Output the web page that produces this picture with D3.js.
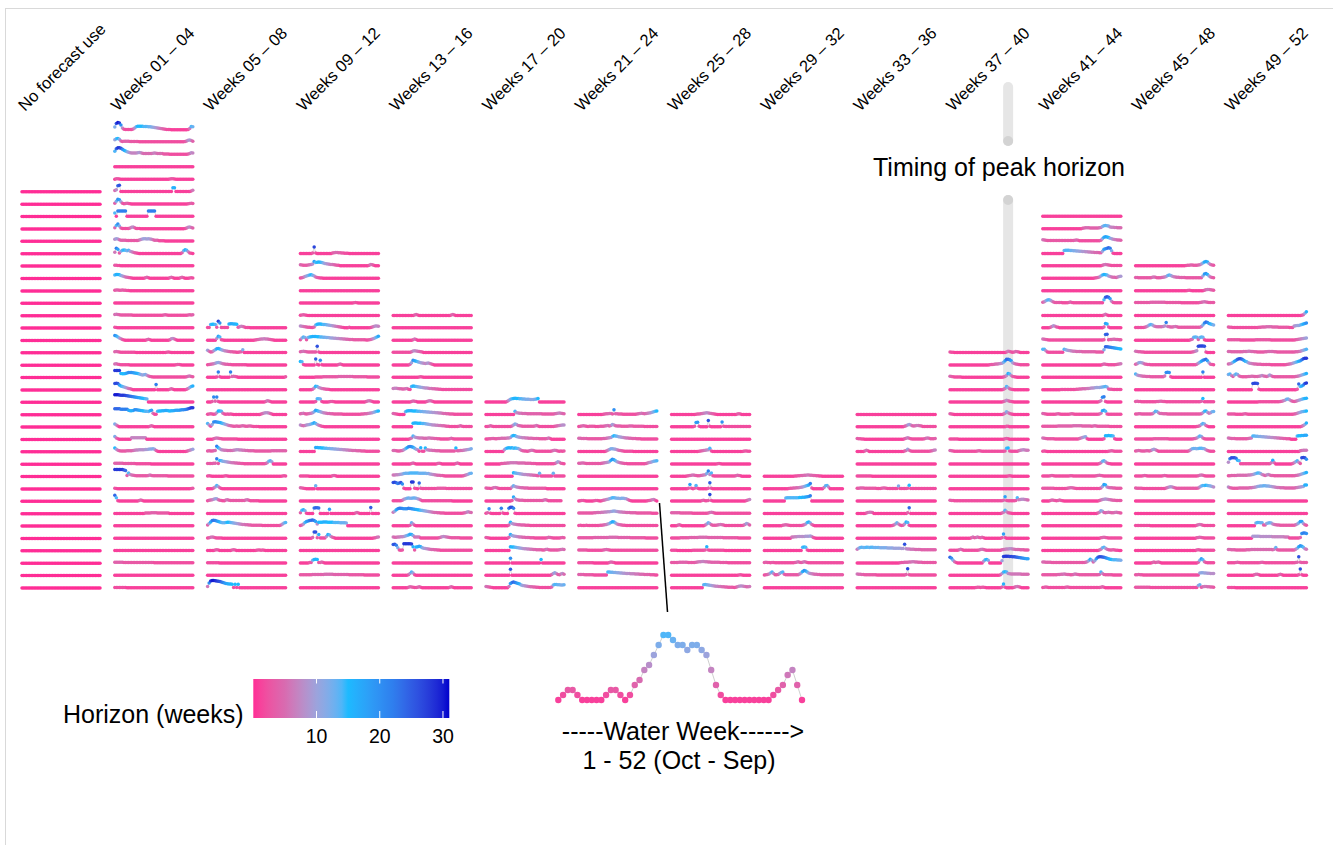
<!DOCTYPE html>
<html>
<head>
<meta charset="utf-8">
<script src="https://cdn.jsdelivr.net/npm/d3@7"></script>
<style>
  body { margin: 0; background: #fff; }
  svg { display: block; }
  text { font-family: "Liberation Sans", Arial, Helvetica, sans-serif; fill: #000; }
</style>
</head>
<body>
<svg id="chart" width="1333" height="845"></svg>
<script>
// column headers (grouped by timing of peak horizon)
var groupLabels = ["No forecast use", "Weeks 01 \u2013 04", "Weeks 05 \u2013 08", "Weeks 09 \u2013 12",
  "Weeks 13 \u2013 16", "Weeks 17 \u2013 20", "Weeks 21 \u2013 24", "Weeks 25 \u2013 28", "Weeks 29 \u2013 32",
  "Weeks 33 \u2013 36", "Weeks 37 \u2013 40", "Weeks 41 \u2013 44", "Weeks 45 \u2013 48", "Weeks 49 \u2013 52"];

var legendTicks = [10, 20, 30];

// each row = horizon (weeks) for water weeks 1..52, written as "value" or "value*repeat"
var noForecast = ["0*52","0*52","0*52","0*52","0*52","0*52","0*52","0*52","0*52","0*52","0*52",
  "0*52","0*52","0*52","0*52","0*52","0*52","0*52","0*52","0*52","0*52","0*52",
  "0*52","0*52","0*52","0*52","0*52","0*52","0*52","0*52","0*52","0*52","0*52"];

var weeks01 = [
  "12 26 30 28 20 8 3 2*5 4 8 13 15*4 14*3 13*2 12 11 10 9 8 7 6 5 4 3 2*3 1*11 2 6 14 13",
  "10 14 15 12 5 3 4*4 3*6 2*30 3 5 8 9 7 4",
  "14 24 28 28 26 22 18 15 12 10 8 7*4 8 9 8 6 5*6 6 7 6 5*4 3*4 2*12 3 5 8 7",
  "1*52",
  "1 3 3 2 1*32 2 3 3 2 1*12",
  "5 8 24 26 1*34 16 16 1*10 3 6",
  "4 12 20 18 10 4 2 3 4 3 2 1*37 2 3 4 3",
  "14 1 22*6 1*14 22*5 1*25",
  "5 14 20 12 4 2*5 4 7 8 5 2*3 1*29 2 4 7 8 6 4",
  "8 10 9 6 4*4 3*8 5 7 9 10 10 9 10 9 8 6 4*3 2*4 1*19",
  "6 22 18 3 10 14 15 14 12 14 10 8 6 4 3 2 1*28 4 12 16 14 8 3 2 1",
  "3 3 2 2 1*48",
  "14 16 16 15 12 10 8 6 5 4 3 2 1*8 3 5 3 1*13 3 5 3 1*4 3 5 3 1*3 2 3 2",
  "3 4 4 3 3 4 3 3 2 2 1*42",
  "1*52",
  "5 6 5 4 3*8 2*20 3 4 3 2*13 3 4 3 4",
  "3 2 1*50",
  "20 18 14 10 7 4 2 1*14 3 5 3 1*12 3 7 8 6 3 1*11",
  "4 5 4 3 2*10 1*20 2 3 2 1*15",
  "5 6 4 3 2*6 1*30 2 3 3 2 1*8",
  "28*4 16 15 15 16 18 20 20 20 19 18 17 16 14 12 10 11 12 9 6 4 3 2*22 3 5 6 4 3",
  "26 27 26 20 16 14 12 10 8 6 5 3 1*15 22 1*8 3 5 3 1*8 3 6 10 14 16",
  "30*3 29 28 28 28 27 26 25 24 23 22 21 20 19 18 17 16 15 14 13 1*30",
  "24*4 22*5 18 16 16 17 20 20 19 18 17 16 15 14 14 13 16 18 6 2 2 14 15 15 16 16 17 17 16 15 16 16 17 18 18 18 19 20 20 21 22 24 26 28 28",
  "12 8 4 1*20 3 5 3 1*26",
  "12 6 3 1*8 7*10 1*31",
  "15 10 6 4 3*4 4*4 5 6 7 7 8 8 8 8 9 9 10 11 11 12 10 5 2 1*18 2 4 6 8 10",
  "4*6 3*8 2*10 1*28",
  "28*6 26 24 4 14 8 6 5 4 3*8 4 6 4 3*10 2*17",
  "3 2 1*48 2 3",
  "24 14 2 1*13 3 5 3 1*33",
  "1*20 3*4 4*4 3*8 1*16",
  "1*52",
  "1*52",
  "1*52",
  "4*6 3*20 2*26",
  "1*52",
  "2*8 1*44"
];

var weeks05 = [
  "2 2 14 15 15 14 3 27 20 2*5 16 17 17 16 16 15 3 5 7 6 4 2*3 1*24",
  "1*6 8 17 14 3 2 1*20 2 3 4 5 6 6 7 6 6 5 4 3 2 1*8",
  "10 6 3 4 8 12 16 17 15 12 10 8 7 6 5 4 4 3 3 2 2 3 4 12 1*28",
  "2 3 4 5 6 8 10 11 10 8 6 5 4 4 3 3 2*10 1*26",
  "1*6 2 22 3 1*6 22 4 5 4 3 1*31 3",
  "1*52",
  "1*3 3 21 4 21 3 1*30 3 6 5 3 1*10",
  "2 3 4 3 2 3 8 15 15 14 6 3 2 3 2 3 2 1*18 3 5 7 8 8 7 5 3 1*9",
  "14 8 3 10 20 21 20 19 18 16 14 12 10 8 6 5 4 3 3 4 3 3 4 5 4 3 3 4 4 3 2*4 1*18",
  "1*4 3 5 6 5 4 3 2*10 1*32",
  "3 4 3 3 4 5 22 16 12 8 7 6 6 5 5 5 5 6 7 8 8 7 7 6 6 5 5 4 4 4 4 3*11 4*10",
  "3 3 3 3 4 4 22 3 15 14 12 11 10 9 8 7 6 6 5 5 4 4 3 3 2*14 3 6 12 14 10 1*9",
  "2 3 2 1*8 2 3 2 1*35 2 3 2",
  "1*4 4 8 14 10 5 2 1*42",
  "2 4 5 6 8 10 10 6 4 3 2 2 5 6 4 3*10 5 6 4 2*6 1*18",
  "1*52",
  "4 10 16 22 23 22 20 18 16 14 13 13 14 15 15 14 13 12 11 10 9 8 7 6 6 5 5 4 4 3 3*6 2*12 4 8 12 14",
  "2 3 5 6 5 3 2*4 1*42",
  "1*5 3 4 3 1*8 3 4 3 1*13 2 3 3 2 3 2 1*14",
  "2*8 1*44",
  "1*52",
  "6 20 28 30 30 29 28 27 26 24 22 20 18 17 16 16 15 2 15 2 15 1*31"
];

var weeks09 = [
  "1*8 3 27 3 1*10 3 4 5 5 4 4 3 3 2*3 1*20",
  "5 4 3 3 3 4 5 6 8 18 14 15 16 15 14 12 10 9 8 7 6 6 5 4 3 3 1*19 3 6 5 3 1*3",
  "2 3 5 8 10 12 14 15 13 10 6 4 3 2 2 1*37",
  "1*52",
  "1*35 2 3 2 1*14",
  "2 3 4 3 2 1*47",
  "8 7 6 5 4 3 3 2 2 4 12 15 16 16 15 14 14 13 12 11 10 9 8 7 6 5 4 3 2 1*3 3 1*13 2 4 6 8 8 7",
  "3 10 14 12 3 12 14 15 16 16 16 15 15 14 14 13 13 12 12 11 10 10 9 9 8 8 7 7 6 6 5 5 4 4 4 3*8 2 2 3 4 6 8 11 14 17",
  "4 5 6 5 4 3*6 26 3 1*39",
  "15 14 3 1*7 25 3 1 20 2 1*10 3 5 3 1*24",
  "1*10 2*5 3*10 4*10 3*9 2*8",
  "1*8 3 8 15 14 10 8 6 5 4 3 3 2 1*32",
  "1*10 3 14 14 13 3 1*4 2 3 3 2 1*20 3 5 6 5 3 1*4",
  "4 5 6 4 3 4 5 6 8 12 18 16 14 12 10 8 7 6 5 5 4 4 3*6 2*12 3 3 4 4 5 6 7 8 10 12 14 15",
  "8 6 5 6 8 9 10 12 14 17 14 10 7 5 3 2 1*36",
  "1*52",
  "1*10 17 17 16 16 15 15 14 14 13 13 12 12 11 11 10 10 9 9 8 8 7 7 6 6 5 5 5 4 4 4 3 3 3 2*9",
  "1*52",
  "2*6 1*15 3 4 3 1*28",
  "5 4 3 2 1*6 13 1*41",
  "1*52",
  "4 14 16 12 2 1 1 1 1 23 24 24 23 1*6 18 1*16 3 5 3 1*7 25 1*5",
  "2 4 8 14 18 20 22 23 24 22 18 8 15 15 15 16 16 16 15 15 15 15 14 14 14 14 13 13 13 13 12 1*21",
  "1*8 4 26 26 3 16 2*4 8 16 14 8 5 3 1*25 2 3 5 6",
  "1*52",
  "1*6 3 3 12 15 16 15 3 3 5 3 1*36",
  "3*8 4*8 5*6 4*10 3*10 2*10",
  "1*52"
];

var weeks13 = [
  "1*14 3 5 3 1*21 3 5 3 1*11",
  "1*52",
  "1*13 3 6 4 1*36",
  "2*12 4 7 8 7 6 5 4 3 1*32",
  "1*11 4 10 20 18 16 14 12 10 9 8 7 8 9 7 5 3 1*25",
  "1*17 2 3 2 1*32",
  "6 7 7 6 5 5 4 4 5 6 3 2 14 16 15 14 13 12 11 10 9 8 8 7 6 6 5 5 4 4 3 3 2*20",
  "1*12 3 5 4 3 1*6 3 5 6 5 3 1*25",
  "5 4 3 2 1*4 12 15 16 16 16 15 15 15 14 14 13 13 12 12 11 11 10 10 9 9 8 8 7 7 6 5 5 4 4 3 3 3 2*12",
  "1*13 15 16 16 15 15 15 14 14 13 12 11 10 9 8 8 7 7 6 6 5 5 4 3 3 2*6 3 5 3 2*6",
  "1*11 3 6 14 10 8 7 6 6 6 5 5 5 6 6 5 5 4 4 3 3 2*6 3 5 3 2*12",
  "5 5 4 3 3 4 5 8 12 16 20 21 20 18 14 10 8 2 16 2 2 15 8 7 6 6 5 5 4 4 4 3 3 3 3*7 15 4 4 5 5 6 7 8 9 10 12",
  "1*12 3 5 3 1*14 3 4 3 1*9 3 5 3 1*8",
  "6 6 7 7 8 9 10 12 13 13 13 14 14 14 14 14 14 13 13 13 13 13 12 12 10 9 8 7 6 5 5 4 4 3 2*12 3 5 7 9 12 13",
  "26 27 25 22 24 26 20 3 1*4 28 28 3 2 1 24 3 2*10 3*6 2*17",
  "2*6 4 8 10 12 13 12 12 13 13 12 10 8 5 2*20 1*13",
  "6 10 16 20 22 22 21 20 20 20 22 21 20 19 18 17 16 15 14 13 12 11 10 9 8 7 6 5 5 4 4 3 3 3 2*12 3 4 6 8 6 5",
  "1*11 3 13 8 3 1*37",
  "6 5 5 6 6 7 7 8 10 12 14 17 16 12 6*4 2*12 3 5 7 8 7 6 5 4 3*6 2*8",
  "25 26 22 12 3 2 3 28 28 28 28 28 27 16 3 15 16 18 16 12 10 9 8 7 6 5 5 4 4 3 3 2*21",
  "1*52",
  "1*10 3 8 14 10 3 1*37",
  "1*10 3 5 4 3 2 2 3 5 3 1*18 3 5 3 1*12"
];

var weeks17 = [
  "1*14 4 8 12 14 15 16 15 15 14 14 13 13 12 12 12 11 11 11 12 13 15 1*17",
  "1*19 14 8 7 6 6 5 5 5 4*10 3*8 4 5 6 7 6 5 4",
  "2 2 3 5 3 2*12 4 8 12 10 6 5 4 3*8 4 6 4 2*10 3 4 5 6 7 8 8",
  "2 2 3 3 4 4 3 3 4 4 5 5 5 5 6 6 8 14 16 15 12 10 9 8 7 7 6 6 5 5 5 4 4 4 4 3 3 3 3 3 4 6 4 1*9",
  "1*12 8 13 15 16 15 16 14 15 14 13 10 6 4 3 3 2 3 5 6 5 3 2*10 3 5 6 5 3 2 3 2 3",
  "1*10 3 3 4 4 5 5 6 6 6 6 6 5 5 5 5 5 4 4 4 4 3 3 3 2*12 3 6 10 8 4 3 2",
  "1*18 15 14 13 12 11 10 9 8 8 7 7 6 6 5 5 4 3 13 2*8 13 2*7",
  "4 3 3 2 3 5 6 5 3 2*8 8 13 10 8 7 6 5 5 4 4 4 3*12 1*12",
  "1*17 3 17 10 6 5 4 4 4 3 3 3 3 3 3 3 3 3 3 3 3 3 5 6 4 2*9",
  "2 4 20 2 1*6 22 3 1*3 22 26 26 22 2 1*32",
  "1*15 4 15 10 8 7 6 5 5 4 4 4 3 3 3 2*23",
  "4 3 2 1*12 5 16 12 10 9 8 7 6 6 5 5 4 4 4 3 3 3 2*8 3 5 4 3 2*5 3 4 3",
  "1*16 16 15 15 14 13 12 11 10 9 8 8 7 7 6 6 5 5 4 4 4 4 3 3 5 6 4 3*6 4 5 6 5",
  "1*16 20 1*19 15 1*15",
  "1*16 25 1*26 4 8 11 8 4 3 6 8 5",
  "6 5 4 3 2 1*10 6 18 22 24 22 20 18 16 12 10 9 8 7 6 5 5 4 4 3 3 2*8 4 12 14 14 13 13 12 12 13"
];

// row 8 of this column is the one blown up in the inset
var weeks21 = [
  "1*16 2 3 4 4 5 5 3 20 4 4 3 3 3 2*9 3 4 5 6 5 4 5 6 7 8 10 12 14 15",
  "2 3 4 5 4 3 2 3*4 2*3 3*3 4 5 6 4 6 10 8 5 4*3 3*5 4*3 3*7 2*9",
  "5 5 4 4 4 4 3*10 4 4 5 6 7 8 12 15 14 13 11 10 9 8 7 6 6 5 5 4 4 4 3 3 3 2*11",
  "1*18 3 6 9 12 12 11 10 8 6 5 4 3 2*6 1*16",
  "4 4 5 5 4 3 3 3 3 3 3 3 3 3 3 4 5 6 7 8 10 16 20 18 14 10 8 6 5 4 3 3 2*12 3 5 7 8 10 12 13 14",
  "1*52",
  "1*52",
  "1 2 3 3 2 1 1 1 1 1 2 3 3 2 1 2 4 5 7 8 10 12 14 14 13 12 12 11 12 12 11 10 7 4 2 1 1 1 1 1 1 1 1 1 1 2 3 4 6 7 4 1",
  "3*10 4 4 5 5 5 6 6 7 7 8 8 9 10 11 10 9 8 7 7 6 6 5 5 5 4 4 4 4 3*10 2 2 2 2",
  "2 3 2 2 2 3 2 2 2 2 2 2 2 2 3 3 4 5 6 8 10 14 17 16 12 8 6 5 4 3 3 2*21",
  "3*10 4*10 5*6 4*8 3*10 2*8",
  "3*6 2*10 3 4 5 4 3 2*31",
  "2*10 1*10 3 5 4 3 1*28",
  "4*4 3*6 2*9 14 14 13 13 12 12 11 11 10 10 9 9 8 8 8 7 7 7 6 6 6 5 5 5 4 4 4 4 3 3 3 2 2",
  "1*52"
];

var weeks25 = [
  "1*16 2 3 3 4 5 6 7 8 7 6 5 4 3 2 1*13 3 4 3 1*6",
  "1*15 3 18 19 3 1*5 26 3 1*7 20 3 2*17",
  "1*52",
  "1*18 2 3 4 5 6 7 8 14 3 1*20 2 3 3 2 2",
  "1*30 2 3 2 1*19",
  "1*10 2 3 4 5 6 5 4 3 3 4 5 6 7 12 22 8 14 3 2*14 3 5 4 3 1*6",
  "1*11 3 18 3 1 3 14 3 1*6 3 25 3 1*25",
  "1*20 3 4 2 2 3 27 3 1*22 3 5 7",
  "4*6 3*8 2*10 3 5 6 5 3 2*23",
  "1*4 3 5 3 1*15 4 8 13 10 5 3 3 3 4 5 6 5 4 2*12 3 6 10 8 4",
  "2*6 3*6 4*6 5*6 4*10 3*10 2*8",
  "2*4 1*10 2*8 3 16 3 2*10 1*17",
  "3*5 4*6 3*5 4 5 6 6 7 7 6 6 5 5 4*6 3*5 2*15",
  "1*44 2 3 2 1*5",
  "1*21 13 14 13 12 11 10 9 8 7 7 6 6 5 5 4 4 3 3 3 3 2 3 5 7 8 8 7 6 5 5 6"
];

var weeks29 = [
  "1*20 2 2 3 3 4 4 5 5 6 6 5 5 4 4 3 3 2 2 1*14",
  "1*16 2 3 3 4 4 5 5 6 7 8 10 12 14 16 22 4 1*7 6 13 14 8 1*9",
  "1*14 13 14 14 14 14 14 14 14 14 15 15 16 16 17 18 19 22 1*21",
  "1*52",
  "1*12 3 4 5 4 3 2*8 3 5 8 14 16 12 6 3 1*19",
  "1*18 6 6 7 7 8 8 8 8 8 9 9 9 10 8 4 2 1*18",
  "1*25 14 15 14 3 1*23",
  "3 4 3 3 2 3 3 2 2*12 3 4 6 4 3 4 6 5 3 2*23",
  "2 3 4 6 10 14 8 3 3 4 8 12 14 5 3*9 6 10 16 20 18 14 10 8 7 6 5 5 4 4 3 3*14",
  "1*52"
];

var weeks33 = [
  "1*52",
  "1*31 3 5 8 10 8 5 4 5 6 6 5 4 2*9",
  "4 3 3 2 2 1*26 3 5 7 5 3 2*8 3 5 6 5 3 3 3 4",
  "1*5 3 6 4 1*23 3 5 10 6 3 2*12 3 4 6 7",
  "1*52",
  "2*10 1*42",
  "3 3 4 4 4 3 3 3 3 3 3 3 3 2 2 2 3 4 4 3 2*7 12 2*5 3 15 2*17",
  "1*52",
  "1*6 3 5 6 6 5 1*22 4 24 1*17",
  "1*23 2 4 8 13 8 4 2 3 8 16 14 3 1*17",
  "1*52",
  "6 10 13 14 13 13 14 14 13 14 14 13 13 13 13 12 12 12 12 12 11 11 11 11 10 10 10 10 10 9 9 26 8 7 7 6 6 6 5 5 5 5 4*10",
  "1*28 2 3 3 4 4 4 5 5 6 6 5 5 4 4 4 3*9",
  "6 5 5 4 4 3*8 2*19 4 27 3 2*17",
  "1*52"
];

var weeks37 = [
  "3 2 2 1*34 3 6 5 3 2 3 5 4 3 1*6",
  "1*26 2 3 3 4 5 5 6 7 8 12 18 24 24 22 18 10 7 5 4 3 2*6",
  "5 4 3 2*5 1*27 2 4 8 16 14 8 4 3 2 1*8",
  "1*35 3 6 14 10 5 3 2 1*10",
  "1*35 3 5 8 6 4 3 2 1*10",
  "4 3 2 1*32 3 6 12 8 5 3 2 1*10",
  "1*37 3 3 1*13",
  "2*6 1*30 3 4 3 1*13",
  "5 4 3 2*15 3 4 3 2*15 3 14 15 3 2*5 4 6 7 8 7 6 6",
  "1*52",
  "1*38 2 3 2 1*11",
  "1*52",
  "4 3 3 2*32 4 18 3 2*5 3 14 6 7 8 8 7 6 5",
  "1*34 3 6 14 8 4 3 2 1*11",
  "1*52",
  "1*14 3 6 3 4 6 4 3 5 3 1*11 3 18 4 1*15",
  "2*6 4 6 4 2*10 3 5 6 5 3 2*10 4 5 6 7 7 8 8 7 6 5 5 5 4 4 4 3 3 3",
  "24 20 12 6 3 1*17 8 14 15 12 1*8 10 27 28 28 28 27 27 26 26 25 24 23 22 21 20 19 18 18",
  "1*33 3 8 14 15 14 8 7 6*7 5*5",
  "1*17 2 3 3 2 3 3 2 1*10 4 16 3 1*5 3 5 6 5 3 1*5"
];

var weeks41 = [
  "1*52",
  "1*26 3 4 5 5 5 4*6 5 6 10 13 14 13 12 8 7 7 6 6 5 5 5",
  "6 5 4 3*18 4 5 4 2*14 4 10 16 18 17 15 12 10 8 7 6 5 5 4",
  "1*14 13 14 14 14 13 13 12 12 11 11 10 10 9 9 8 8 7 7 6 6 5 5 5 4 4 10 18 20 22 24 22 12 2 1*5",
  "1*39 3 5 6 5 4 3 2*7",
  "1*34 2 3 4 6 10 14 16 15 14 10 8 6 5 5 4 6 8 9",
  "1*52",
  "4 6 10 13 14 12 8 5 3*5 2*4 3 5 3 2*20 14 24 26 24 18 8 3 2*5",
  "1*40 3 6 3 1*9",
  "1*5 3 6 9 7 4 3 1*29 4 18 16 4 1*8",
  "6 5 4 3 2*36 3 24 25 3 4 4 5 5 4 4 3 3",
  "14 14 8 3 2*10 14 12 10 9 8 7 6 6 5*4 4*9 3*5 12 24 24 23 22 21 20 19 18 17 16 15",
  "1*39 3 5 4 3 2*5 3 4 5 6",
  "1*52",
  "1*12 2*10 3 3 4 4 5 5 5 6 6 7 8 8 9 10 10 10 11 12 13 14 12 4 3 3 2*6",
  "1*37 3 6 20 22 3 1*10",
  "5 4 3 2*6 3 4 3 2*6 3 4 3 2*16 3 6 16 18 14 3 2*9",
  "3*10 4*10 5*6 4*6 3 4 5 4 3*8 2*8",
  "6 5 4 3*5 2*16 4 6 8 10 11 3 1*10 3 15 15 16 15 15 14 3 1*4",
  "2 3 2 1*40 2 3 4 3 2*5",
  "1*37 3 6 12 14 10 5 3 2 1*7",
  "2*5 3 4 3 2*10 3 3 2*15 3 4 5 4 3 2*12",
  "3*8 2*8 3 4 5 5 4 3 2*16 4 10 18 16 8 6 5 5 4 4 3*4",
  "1*5 3 5 4 3 2 3 5 3 2 1*23 3 5 7 8 9 8 7 6 5 4 4 3*4",
  "1*36 3 6 12 10 5 4 5 6 5 4 4 5 6 5 4 3",
  "1*52",
  "1*38 3 4 5 4 3 2*9",
  "1*37 3 6 12 14 10 6 4 3 3 4 3 2 2 1 1",
  "5 5 4 4 4 4 3 3 3*20 4 6 10 16 12 5 10 18 24 26 26 25 24 22 20 18 16 15 14 14 14 13 13 12",
  "3*10 4 4 5 5 6 5 4 4 3 3 4 6 5 4 3*13 4 14 8 4 3*5 2*6",
  "2 3 4 3 2 2*10 3 4 3 2*20 3 5 3 1*11"
];

var weeks45 = [
  "1*33 2 3 3 4 4 3 3 3 4 5 8 12 16 18 16 10 6 4 3",
  "4 4 3*9 5 6 5 3 3 3 4 5 6 8 12 14 12 9 7 6 5 5 4 4 4 4 3*11 10 18 20 16 10 6 4 3",
  "1*34 2 3 2 1*8 3 5 6 6 5 4 3",
  "3*10 4*10 3*10 2*12 3 4 5 6 5 4 3 3 3 3",
  "1*52",
  "2*6 3 5 8 12 14 12 8 6 5 5 5 5 6 8 22 6 5 4 4 5 6 5 3*15 6 12 20 24 22 18 16 14 12",
  "1*36 3 5 13 14 13 4 12 14 13 3 1*6",
  "6 5 4 4 3 3 2*31 3 4 6 8 26 27 27 27 26 3 1*5",
  "4 6 10 11 10 8 5 4 3 3 2*30 4 8 12 16 20 22 24 18 10 4 3 2",
  "14 10 8 7 6 5 5 4 4 4 3*9 6 20 21 20 3 1*20 22 1*7",
  "1*52",
  "3 4 3 3 2*10 3 3 4 4 3 3 2*23 4 15 2*7",
  "3 3 4 4 3*7 4 8 14 13 8 5 5 4 4 4 3*22 4 8 14 15 10 6 8 12 13",
  "1*40 2 3 5 10 14 12 6 3 1*4",
  "2*12 3*10 2*16 3 4 6 10 14 12 6 3 2*6",
  "3 4 5 4 3 3 3 4 4 3 5 8 10 8 5 2*20 4 8 12 13 13 12 13 14 14 13 12 8 5 3 2 2 2",
  "1*52",
  "2*5 3 4 3 2*10 3 4 3 2*20 3 5 6 5 3 2*6",
  "4 3 3 3 3 2*15 4 6 8 9 8 6 4 3*14 4 8 12 14 14 15 14 13 12 10 8",
  "1*52",
  "1*52",
  "2*10 1*30 3 5 6 5 3 2*7",
  "1*40 3 4 5 4 3 2*7",
  "1*40 3 4 3 2*9",
  "1*11 3 5 3 4 5 3 1*24 4 12 18 14 6 3 2*5",
  "3 3 4 3 3 2*37 10 11 11 10 10 9 9 8 8 8",
  "3*10 2*31 10 13 3 5 6 6 5 5 4 4 3"
];

var weeks49 = [
  "1*48 2 4 10 16",
  "4 3 3 2*17 3 3 4 4 4 5 5 5 5 4 4 4 4 3*7 2*3 8 9 10 10 12 14 16 18 20",
  "3*8 2*10 3*10 2*16 3 4 5 6 7 8 9 10",
  "5 5 4*8 5*3 6*2 5*2 4*2 3*5 4*2 5*4 4*2 3*12 4*2 5 6 8 10 12 14",
  "5 6 8 12 16 20 24 26 26 24 20 16 14 10 8 7 6 5 5 4 4 4 3*6 2*10 3 4 5 6 8 10 12 14 16 18 22 26 28 28",
  "12 14 8 4 10 14 12 6 4 3 3 3 3 4 4 5 5 4 4 4 5 6 8 6 5 4 6 10 7 4 3*14 4 5 6 8 10 12 14 16",
  "1*16 26 27 27 26 3 1*24 3 24 14 16 20 26 28",
  "1*20 2*14 3 4 6 8 12 13 10 6 4 3 4 6 8 10 12 14 15 16",
  "3*5 2*5 3 4 3 2*30 3 4 6 8 10 12 13 14 15",
  "1*48 3 6 10 16",
  "6 5 4 4 4 3*8 4 5 6 14 14 13 13 12 12 11 11 10 10 9 9 8 8 7 7 6 6 5 5 4 4 3 3 3 1*4 14 15 15 16 16 17 17",
  "1*47 4 5 6 6 6",
  "8 22 26 26 26 24 16 14 2*20 6 16 6 1*11 3 6 10 14 8 3 26 27 26 20",
  "3 3 4 4 4 4 5*7 6 6 7 8 10 12 14 14 12 8 6 4 6 8 6 4 4 3*14 4 5 6 8 10 12 14 16",
  "8 5 4 3 3 3 3 4*7 5 5 6 7 8 10 11 12 12 13 13 12 12 11 10 9 8 7 6 6 5 5 5 4*7 5 6 7 8 9 10 16 16",
  "1*52",
  "1*52",
  "1*18 12 14 14 13 13 4 4 10 12 13 12 8 6 5 4 4 3*10 5 8 12 18 18 10 5 3",
  "1*16 9*5 8*8 7*8 6*3 2*7 4 20 22 22 20",
  "5 5 4 4 4 3*7 4*3 5*14 4 6 13 4 3*11 6 10 16 20 18 14 8 6",
  "2*5 3 4 3 2*13 3 4 3 2*20 3 4 26 4 3 3 3 3",
  "1*17 3 5 5 3 1*12 3 5 3 1*10 3 26 3 1*3",
  "2*5 1*47"
];

var columns = [noForecast, weeks01, weeks05, weeks09, weeks13, weeks17, weeks21,
  weeks25, weeks29, weeks33, weeks37, weeks41, weeks45, weeks49];

var insetRow = weeks21[7];

function decode(s) {
  var out = [];
  s.trim().split(/\s+/).forEach(function(tok) {
    var p = tok.split("*"), v = +p[0], n = p.length > 1 ? +p[1] : 1;
    for (var i = 0; i < n; i++) out.push(v);
  });
  if (out.length !== 52) console.warn("row length " + out.length + ": " + s);
  return out.slice(0, 52).map(function(v, i) { return { week: i + 1, h: v }; });
}

var svg = d3.select("#chart");

// frame
svg.append("rect").attr("x", 5.5).attr("y", 8.5).attr("width", 1340).attr("height", 850)
  .attr("fill", "none").attr("stroke", "#d9d9d9");

var colX = d3.scaleBand().domain(groupLabels).range([22, 1306.4]).paddingInner(0.1595).paddingOuter(0);
var weekX = d3.scaleLinear().domain([1, 52]).range([0, colX.bandwidth()]);
var rowY = d3.scaleLinear().domain([0, 1]).range([588, 575.62]);   // row counted from the bottom
var lift = d3.scaleLinear().domain([0, 31]).range([0, -7.75]);
var color = d3.scaleLinear()
  .domain([0, 5, 10, 15, 22, 31])
  .range(["#ff2e96", "#d86bb0", "#9ca3dc", "#1dbaff", "#2f7fee", "#0000cd"])
  .interpolate(d3.interpolateLab)
  .clamp(true);

// column headers
svg.append("g").selectAll("text")
  .data(groupLabels)
  .enter().append("text")
  .attr("transform", function(d) { return "translate(" + (colX(d) + 3) + ",112) rotate(-45)"; })
  .style("font-size", "16.5px")
  .text(function(d) { return d; });

// timing of peak horizon marker (behind the lines)
var peakX = colX(groupLabels[10]) + weekX(39);
var marker = svg.append("g");
marker.append("line").attr("x1", peakX).attr("x2", peakX).attr("y1", 87).attr("y2", 141)
  .attr("stroke", "#e6e6e6").attr("stroke-width", 10).attr("stroke-linecap", "round");
marker.append("circle").attr("cx", peakX).attr("cy", 141).attr("r", 5).attr("fill", "#d3d3d3");
marker.append("line").attr("x1", peakX).attr("x2", peakX).attr("y1", 200).attr("y2", 585)
  .attr("stroke", "#e6e6e6").attr("stroke-width", 10).attr("stroke-linecap", "round");
marker.append("circle").attr("cx", peakX).attr("cy", 200).attr("r", 5).attr("fill", "#d3d3d3");
svg.append("text").attr("x", 999).attr("y", 176).attr("text-anchor", "middle")
  .style("font-size", "25px").text("Timing of peak horizon");

// small multiples
var line = d3.line().x(function(d) { return weekX(d.week); }).y(function(d) { return lift(d.h); });

columns.forEach(function(rows, c) {
  var g = svg.append("g").attr("transform", "translate(" + colX(groupLabels[c]) + ",0)");
  var n = rows.length;
  rows.forEach(function(s, i) {
    var data = decode(s);
    var rg = g.append("g").attr("transform", "translate(0," + rowY(n - 1 - i) + ")");
    rg.append("path").attr("d", line(data)).attr("fill", "none")
      .attr("stroke", "#c8c8c8").attr("stroke-width", 0.7);
    rg.selectAll("circle").data(data).enter().append("circle")
      .attr("cx", function(d) { return weekX(d.week); })
      .attr("cy", function(d) { return lift(d.h); })
      .attr("r", 1.75)
      .attr("fill", function(d) { return color(d.h); });
  });
});

// leader line to inset
svg.append("line").attr("x1", 659.5).attr("y1", 503).attr("x2", 667.5).attr("y2", 612)
  .attr("stroke", "#000").attr("stroke-width", 1.5);

// inset
var insetData = decode(insetRow);
var insetX = d3.scaleLinear().domain([1, 52]).range([558.3, 802]);
var insetY = d3.scaleLinear().domain([1, 14]).range([700, 635]);
var inset = svg.append("g");
inset.append("path")
  .attr("d", d3.line().x(function(d) { return insetX(d.week); }).y(function(d) { return insetY(d.h); })(insetData))
  .attr("fill", "none").attr("stroke", "#cfcfcf").attr("stroke-width", 1);
inset.selectAll("circle").data(insetData).enter().append("circle")
  .attr("cx", function(d) { return insetX(d.week); })
  .attr("cy", function(d) { return insetY(d.h); })
  .attr("r", 3.2)
  .attr("fill", function(d) { return color(d.h); });
inset.append("text").attr("x", 683).attr("y", 740).attr("text-anchor", "middle")
  .style("font-size", "25px").text("-----Water Week------>");
inset.append("text").attr("x", 679).attr("y", 769).attr("text-anchor", "middle")
  .style("font-size", "25px").text("1 - 52 (Oct - Sep)");

// colour legend
var legendX = d3.scaleLinear().domain([0, 31]).range([253.3, 449.3]);
var grad = svg.append("defs").append("linearGradient").attr("id", "hgrad")
  .attr("x1", "0%").attr("x2", "100%").attr("y1", "0%").attr("y2", "0%");
d3.range(0, 32).forEach(function(v) {
  grad.append("stop").attr("offset", (v / 31 * 100) + "%").attr("stop-color", color(v));
});
var legend = svg.append("g");
legend.append("rect").attr("x", legendX(0)).attr("y", 679)
  .attr("width", legendX(31) - legendX(0)).attr("height", 39).attr("fill", "url(#hgrad)");
legend.selectAll(".tk1").data(legendTicks).enter().append("line")
  .attr("x1", legendX).attr("x2", legendX).attr("y1", 679).attr("y2", 683.5)
  .attr("stroke", "#fff").attr("stroke-width", 1);
legend.selectAll(".tk2").data(legendTicks).enter().append("line")
  .attr("x1", legendX).attr("x2", legendX).attr("y1", 711).attr("y2", 718)
  .attr("stroke", "#fff").attr("stroke-width", 1);
legend.selectAll(".lb").data(legendTicks).enter().append("text")
  .attr("x", legendX).attr("y", 743).attr("text-anchor", "middle")
  .style("font-size", "19.5px").text(function(d) { return d; });
svg.append("text").attr("x", 63).attr("y", 723).style("font-size", "25px").text("Horizon (weeks)");
</script>
</body>
</html>
